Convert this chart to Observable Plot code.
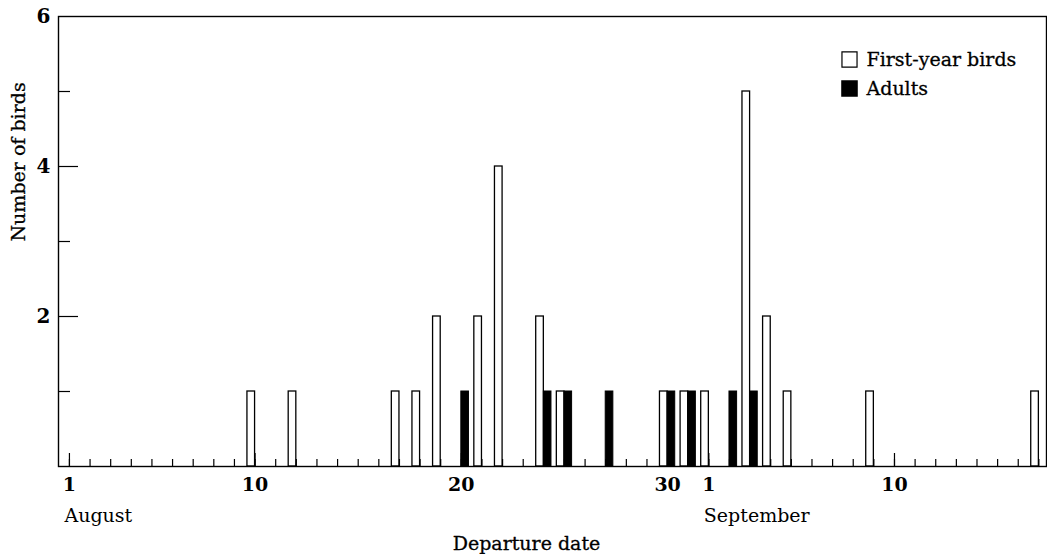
<!DOCTYPE html>
<html>
<head>
<meta charset="utf-8">
<script src="https://cdn.jsdelivr.net/npm/d3@7"></script>
<script src="https://cdn.jsdelivr.net/npm/@observablehq/plot@0.6"></script>
<style>
  html, body { margin: 0; padding: 0; background: #fff; }
  #chart svg { display: block; }
</style>
</head>
<body>
<div id="chart"></div>
<script>
// Day index: 1 = 1 August, 32 = 1 September
const firstYearDays   = [10, 12, 17, 18, 19, 21, 22, 24, 25, 30, 31, 32, 34, 35, 36, 40, 48];
const firstYearCounts = [1,  1,  1,  1,  2,  2,  4,  2,  1,  1,  1,  1,  5,  2,  1,  1,  1];
const adultDays   = [20, 24, 25, 27, 30, 31, 33, 34];
const adultCounts = [1,  1,  1,  1,  1,  1,  1,  1];

const allDays = d3.range(1, 49);
const majorTickDays = [1, 10, 20, 30, 32, 41];
const majorTickLabels = ["1", "10", "20", "30", "1", "10"];
const monthDays = [1, 32];
const monthLabels = ["August", "September"];
const yMinorTicks = [1, 3, 5];
const yMajorTicks = [2, 4];
const yLabelTicks = [2, 4, 6];

const seriesNames = ["First-year birds", "Adults"];

const firstYear = firstYearDays.map((d, i) => ({day: d, count: firstYearCounts[i]}));
const adults = adultDays.map((d, i) => ({day: d, count: adultCounts[i]}));

const barW = 0.37; // bar width in days
const majorLabel = new Map(majorTickDays.map((d, i) => [d, majorTickLabels[i]]));
const monthLabel = new Map(monthDays.map((d, i) => [d, monthLabels[i]]));

const font = "DejaVu Serif";
const heavy = {fill: "#000", stroke: "#000", strokeWidth: 0.3};

const chart = Plot.plot({
  width: 1047,
  height: 554,
  marginLeft: 58,
  marginRight: 1,
  marginTop: 16,
  marginBottom: 88,
  style: {fontFamily: font, fontSize: "19px", color: "#000", background: "#fff"},
  x: {domain: [0.47, 48.37]},
  y: {domain: [0, 6]},
  marks: [
    Plot.rectY(firstYear, {x1: d => d.day - barW, x2: d => d.day, y1: 0, y2: "count",
      fill: "#fff", stroke: "#000", strokeWidth: 1.3}),
    Plot.rectY(adults, {x1: d => d.day, x2: d => d.day + barW, y1: 0, y2: "count",
      fill: "#000", stroke: "#000", strokeWidth: 1}),
    // x ticks (inward)
    Plot.axisX({ticks: allDays, tickSize: -7, tickFormat: () => "", strokeWidth: 1.2, label: null}),
    Plot.axisX({ticks: majorTickDays, tickSize: -13, tickFormat: () => "", strokeWidth: 1.2, label: null}),
    Plot.axisX({ticks: majorTickDays, tickSize: 0, tickPadding: 11, tickFormat: d => majorLabel.get(d),
      fontSize: 19, fontWeight: "bold", label: null}),
    Plot.axisX({ticks: monthDays, tickSize: 0, tickPadding: 42, tickFormat: d => monthLabel.get(d),
      textAnchor: "start", dx: -5, fontSize: 19, label: null}),
    // y ticks (inward)
    Plot.axisY({ticks: yMinorTicks, tickSize: -12, tickFormat: () => "", strokeWidth: 1.2, label: null}),
    Plot.axisY({ticks: yMajorTicks, tickSize: -20, tickFormat: () => "", strokeWidth: 1.2, label: null}),
    Plot.axisY({ticks: yLabelTicks, tickSize: 0, tickPadding: 8, tickFormat: d => String(d),
      fontSize: 20, fontWeight: "bold", label: null}),
    Plot.frame({stroke: "#000", strokeWidth: 1.4}),
    // axis titles
    Plot.text(["Number of birds"], {frameAnchor: "left", rotate: -90, dx: -40, fontSize: 19, ...heavy}),
    Plot.text(["Departure date"], {frameAnchor: "bottom", lineAnchor: "middle", dx: -26, dy: 77, fontSize: 19, ...heavy}),
    // legend
    Plot.dot([seriesNames[0]], {frameAnchor: "top-right", dx: -197, dy: 43, symbol: "square", r: 8.5,
      fill: "#fff", stroke: "#000", strokeWidth: 1.2}),
    Plot.dot([seriesNames[1]], {frameAnchor: "top-right", dx: -197, dy: 72, symbol: "square", r: 8.5,
      fill: "#000", stroke: "#000"}),
    Plot.text([seriesNames[0]], {frameAnchor: "top-right", lineAnchor: "middle", dx: -180, dy: 43,
      textAnchor: "start", fontSize: 19, ...heavy}),
    Plot.text([seriesNames[1]], {frameAnchor: "top-right", lineAnchor: "middle", dx: -180, dy: 72,
      textAnchor: "start", fontSize: 19, ...heavy})
  ]
});
document.getElementById("chart").appendChild(chart);
</script>
</body>
</html>
